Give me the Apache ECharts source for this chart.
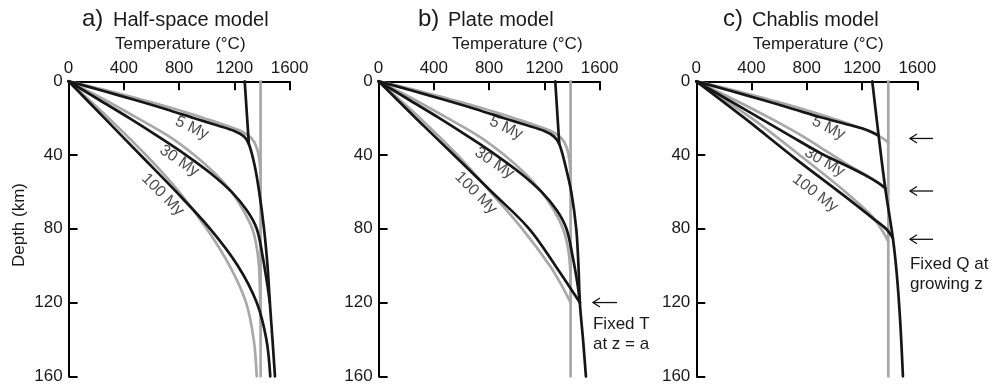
<!DOCTYPE html>
<html><head><meta charset="utf-8">
<script src="https://cdn.jsdelivr.net/npm/echarts@6/dist/echarts.min.js"></script>
<style>html,body{margin:0;padding:0;background:#fff}#c{width:994px;height:387px}</style>
</head><body><div id="c"></div>
<script>
// ---- tick labels ----
const temperatureTicks = [0, 400, 800, 1200, 1600];
const depthTicks = [0, 40, 80, 120, 160];
const ageLabels = ['5 My', '30 My', '100 My'];
const mantleT = 1390;

// ---- a) Half-space model  [temperature °C, depth km] ----
const aGray5 = [[0,0],[280,5],[530,10],[770,15],[980,20],[1140,24],[1260,27.5],[1325,31],[1362,36],[1380,42],[1390,50]];
const aBlack5 = [[0,0],[240,5],[475,10],[700,15],[910,20],[1080,24],[1200,27],[1270,30],[1305,34],[1345,45],[1380,60],[1415,80],[1440,100],[1457,120],[1476,140],[1494,160]];
const aAdiabat = [[1275,0],[1305,34]];
const aGray30 = [[0,0],[260,10],[500,20],[730,30],[910,40],[1060,50],[1180,60],[1265,70],[1330,80],[1362,90],[1378,100],[1386,115],[1390,130]];
const aBlack30 = [[0,0],[220,10],[440,20],[650,30],[850,40],[1030,50],[1180,60],[1290,70],[1362,80],[1405,95],[1438,110],[1457,120]];
const aGray100 = [[0,0],[290,20],[560,40],[800,60],[1000,80],[1165,100],[1285,120],[1340,140],[1362,160]];
const aBlack100 = [[0,0],[260,20],[520,40],[780,60],[1025,80],[1225,100],[1362,120],[1432,140],[1460,160]];
const aLabelAt = [[893,25.3],[801,43.1],[681,61.5]];

// ---- b) Plate model ----
const bGray5 = [[0,0],[280,5],[530,10],[770,15],[980,20],[1140,24],[1260,27.5],[1325,31],[1362,36],[1380,42],[1390,50]];
const bBlack5 = [[0,0],[240,5],[475,10],[700,15],[910,20],[1080,24],[1200,27],[1270,30],[1308,34],[1350,45],[1395,60],[1431,80],[1447,100],[1457,120],[1480,140],[1501,160]];
const bAdiabat = [[1279,0],[1308,34]];
const bGray30 = [[0,0],[260,10],[500,20],[730,30],[910,40],[1060,50],[1180,60],[1270,70],[1335,80],[1370,90],[1386,100],[1390,110]];
const bBlack30 = [[0,0],[220,10],[440,20],[650,30],[850,40],[1030,50],[1180,60],[1290,70],[1360,80],[1405,95],[1440,110],[1457,120]];
const bGray100 = [[0,0],[300,20],[570,40],[810,60],[1040,80],[1240,100],[1335,112],[1390,120]];
const bBlack100 = [[0,0],[270,20],[545,40],[820,60],[1090,80],[1280,100],[1457,120]];
const bLabelAt = [[922,25.3],[837,44.3],[704,60.6]];
const bArrowDepths = [120];

// ---- c) Chablis model ----
const cGray5 = [[0,0],[280,5],[530,10],[770,15],[980,20],[1140,24],[1260,27.5],[1330,30],[1370,32],[1390,33.5]];
const cBlack5 = [[0,0],[240,5],[475,10],[700,15],[900,19.5],[1075,23],[1200,25.5],[1270,27.5],[1320,29.5]];
const cAdiabat = [[1274,0],[1320,29.5],[1368,58],[1423,85],[1452,105],[1476,130],[1496,160]];
const cGray30 = [[0,0],[275,10],[535,20],[775,30],[965,39],[1115,46],[1235,51],[1315,55],[1362,57.5],[1390,59.5]];
const cBlack30 = [[0,0],[230,10],[460,20],[690,30],[900,39],[1080,45.5],[1225,51],[1315,55],[1368,58]];
const cGray100 = [[0,0],[400,20],[765,41],[1080,60],[1270,73],[1355,82],[1390,87]];
const cBlack100 = [[0,0],[350,20],[710,41.5],[1060,61.5],[1290,75],[1380,80.5],[1423,85]];
const cLabelAt = [[957,25.3],[928,43.8],[860,60.6]];
const cArrowDepths = [31, 59.5, 85.7];

const FONT = '"Liberation Sans", Arial, Helvetica, sans-serif';
const BLACK = '#161616', GRAY = '#a8a8a8', TXT = '#1a1a1a';

const panels = [
  {tag:'a)', name:'Half-space model', tagX:82, nameX:113, tempX:115,
   gray:[aGray5,aGray30,aGray100], black:[aAdiabat,aBlack5,aBlack30,aBlack100], labels:aLabelAt, angles:[25,34,45]},
  {tag:'b)', name:'Plate model', tagX:418, nameX:448, tempX:452,
   gray:[bGray5,bGray30,bGray100], black:[bAdiabat,bBlack5,bBlack30,bBlack100], labels:bLabelAt, angles:[25,34,45]},
  {tag:'c)', name:'Chablis model', tagX:723, nameX:752, tempX:753,
   gray:[cGray5,cGray30,cGray100], black:[cAdiabat,cBlack5,cBlack30,cBlack100], labels:cLabelAt, angles:[26,30,37]}
];
const gridLeft = [68.6, 378.6, 696.3];

const chart = echarts.init(document.getElementById('c'));
const grids = gridLeft.map(l => ({left:l, top:81.3, width:221, height:295}));
const axisLineStyle = {color:'#000', width:2};
const plain = v => String(v);
const xAxes = grids.map((g,i) => ({
  gridIndex:i, type:'value', position:'top', min:0, max:1600, interval:400,
  axisLine:{show:true, onZero:false, lineStyle:axisLineStyle},
  axisTick:{show:true, inside:true, length:9, lineStyle:axisLineStyle, customValues:temperatureTicks},
  axisLabel:{margin:4, fontSize:17, color:TXT, fontFamily:FONT, customValues:temperatureTicks, formatter:plain},
  splitLine:{show:false}
}));
const yAxes = grids.map((g,i) => ({
  gridIndex:i, type:'value', inverse:true, min:0, max:160, interval:40,
  axisLine:{show:true, onZero:false, lineStyle:axisLineStyle},
  axisTick:{show:true, inside:true, length:9, lineStyle:axisLineStyle, customValues:depthTicks},
  axisLabel:{margin:6, fontSize:17, color:TXT, fontFamily:FONT, customValues:depthTicks, formatter:plain},
  splitLine:{show:false}
}));

function line(i, data, color, z, smooth) {
  return {type:'line', xAxisIndex:i, yAxisIndex:i, data:data, symbol:'none', showSymbol:false,
    smooth:smooth, clip:false, silent:true, z:z, lineStyle:{color:color, width:2.7, cap:'round', join:'round'}};
}
const series = [];
panels.forEach((p,i) => {
  series.push(line(i, [[mantleT,0],[mantleT,160]], GRAY, 2, false));
  p.gray.forEach(d => series.push(line(i, d, GRAY, 3, 0.35)));
  p.black.forEach((d,k) => series.push(line(i, d, BLACK, 4, k===0 && i<2 ? false : 0.35)));
  series.push({type:'scatter', xAxisIndex:i, yAxisIndex:i, symbolSize:0, silent:true, z:6,
    data: p.labels.map((v,k) => ({value:v, label:{rotate:-p.angles[k], formatter:ageLabels[k]}})),
    label:{show:true, position:'inside', fontSize:16, color:TXT, fontFamily:FONT}});
});

chart.setOption({animation:false, grid:grids, xAxis:xAxes, yAxis:yAxes, series:series});

// ---- annotations ----
const g = [];
function txt(x, y, s, size) {
  return {type:'text', x:x, y:y, silent:true,
    style:{text:s, fontSize:size, fontFamily:FONT, fill:TXT, align:'left', verticalAlign:'middle'}};
}
panels.forEach((p,i) => {
  g.push(txt(p.tagX, 27.3 - 0.3465*24, p.tag, 24));
  g.push(txt(p.nameX, 27.3 - 0.3465*20, p.name, 20));
  g.push(txt(p.tempX, 50.5 - 0.3465*17, 'Temperature (°C)', 17));
});
g.push({type:'text', x:19, y:225, rotation:Math.PI/2, silent:true,
  style:{text:'Depth (km)', fontSize:17, fontFamily:FONT, fill:TXT, align:'center', verticalAlign:'middle'}});

function arrow(i, d, t0, t1) {
  const a = chart.convertToPixel({gridIndex:i}, [t0, d]);
  const b = chart.convertToPixel({gridIndex:i}, [t1, d]);
  g.push({type:'polyline', silent:true, shape:{points:[[b[0],a[1]],[a[0],a[1]]]}, style:{stroke:'#111', lineWidth:1.3, fill:null}});
  g.push({type:'polyline', silent:true, shape:{points:[[a[0]+7,a[1]-4.5],[a[0],a[1]],[a[0]+7,a[1]+4.5]]}, style:{stroke:'#111', lineWidth:1.3, fill:null}});
}
bArrowDepths.forEach(d => arrow(1, d, 1552, 1726));
cArrowDepths.forEach(d => arrow(2, d, 1547, 1714));

function note(i, t, d, s) {
  const p = chart.convertToPixel({gridIndex:i}, [t, d]);
  g.push({type:'text', x:p[0], y:p[1] - 15.9, silent:true,
    style:{text:s, fontSize:17, lineHeight:20, fontFamily:FONT, fill:TXT, align:'left', verticalAlign:'top'}});
}
note(1, 1552, 134.9, 'Fixed T\nat z = a');
note(2, 1547, 102.3, 'Fixed Q at\ngrowing z');

chart.setOption({graphic:g});
</script></body></html>
